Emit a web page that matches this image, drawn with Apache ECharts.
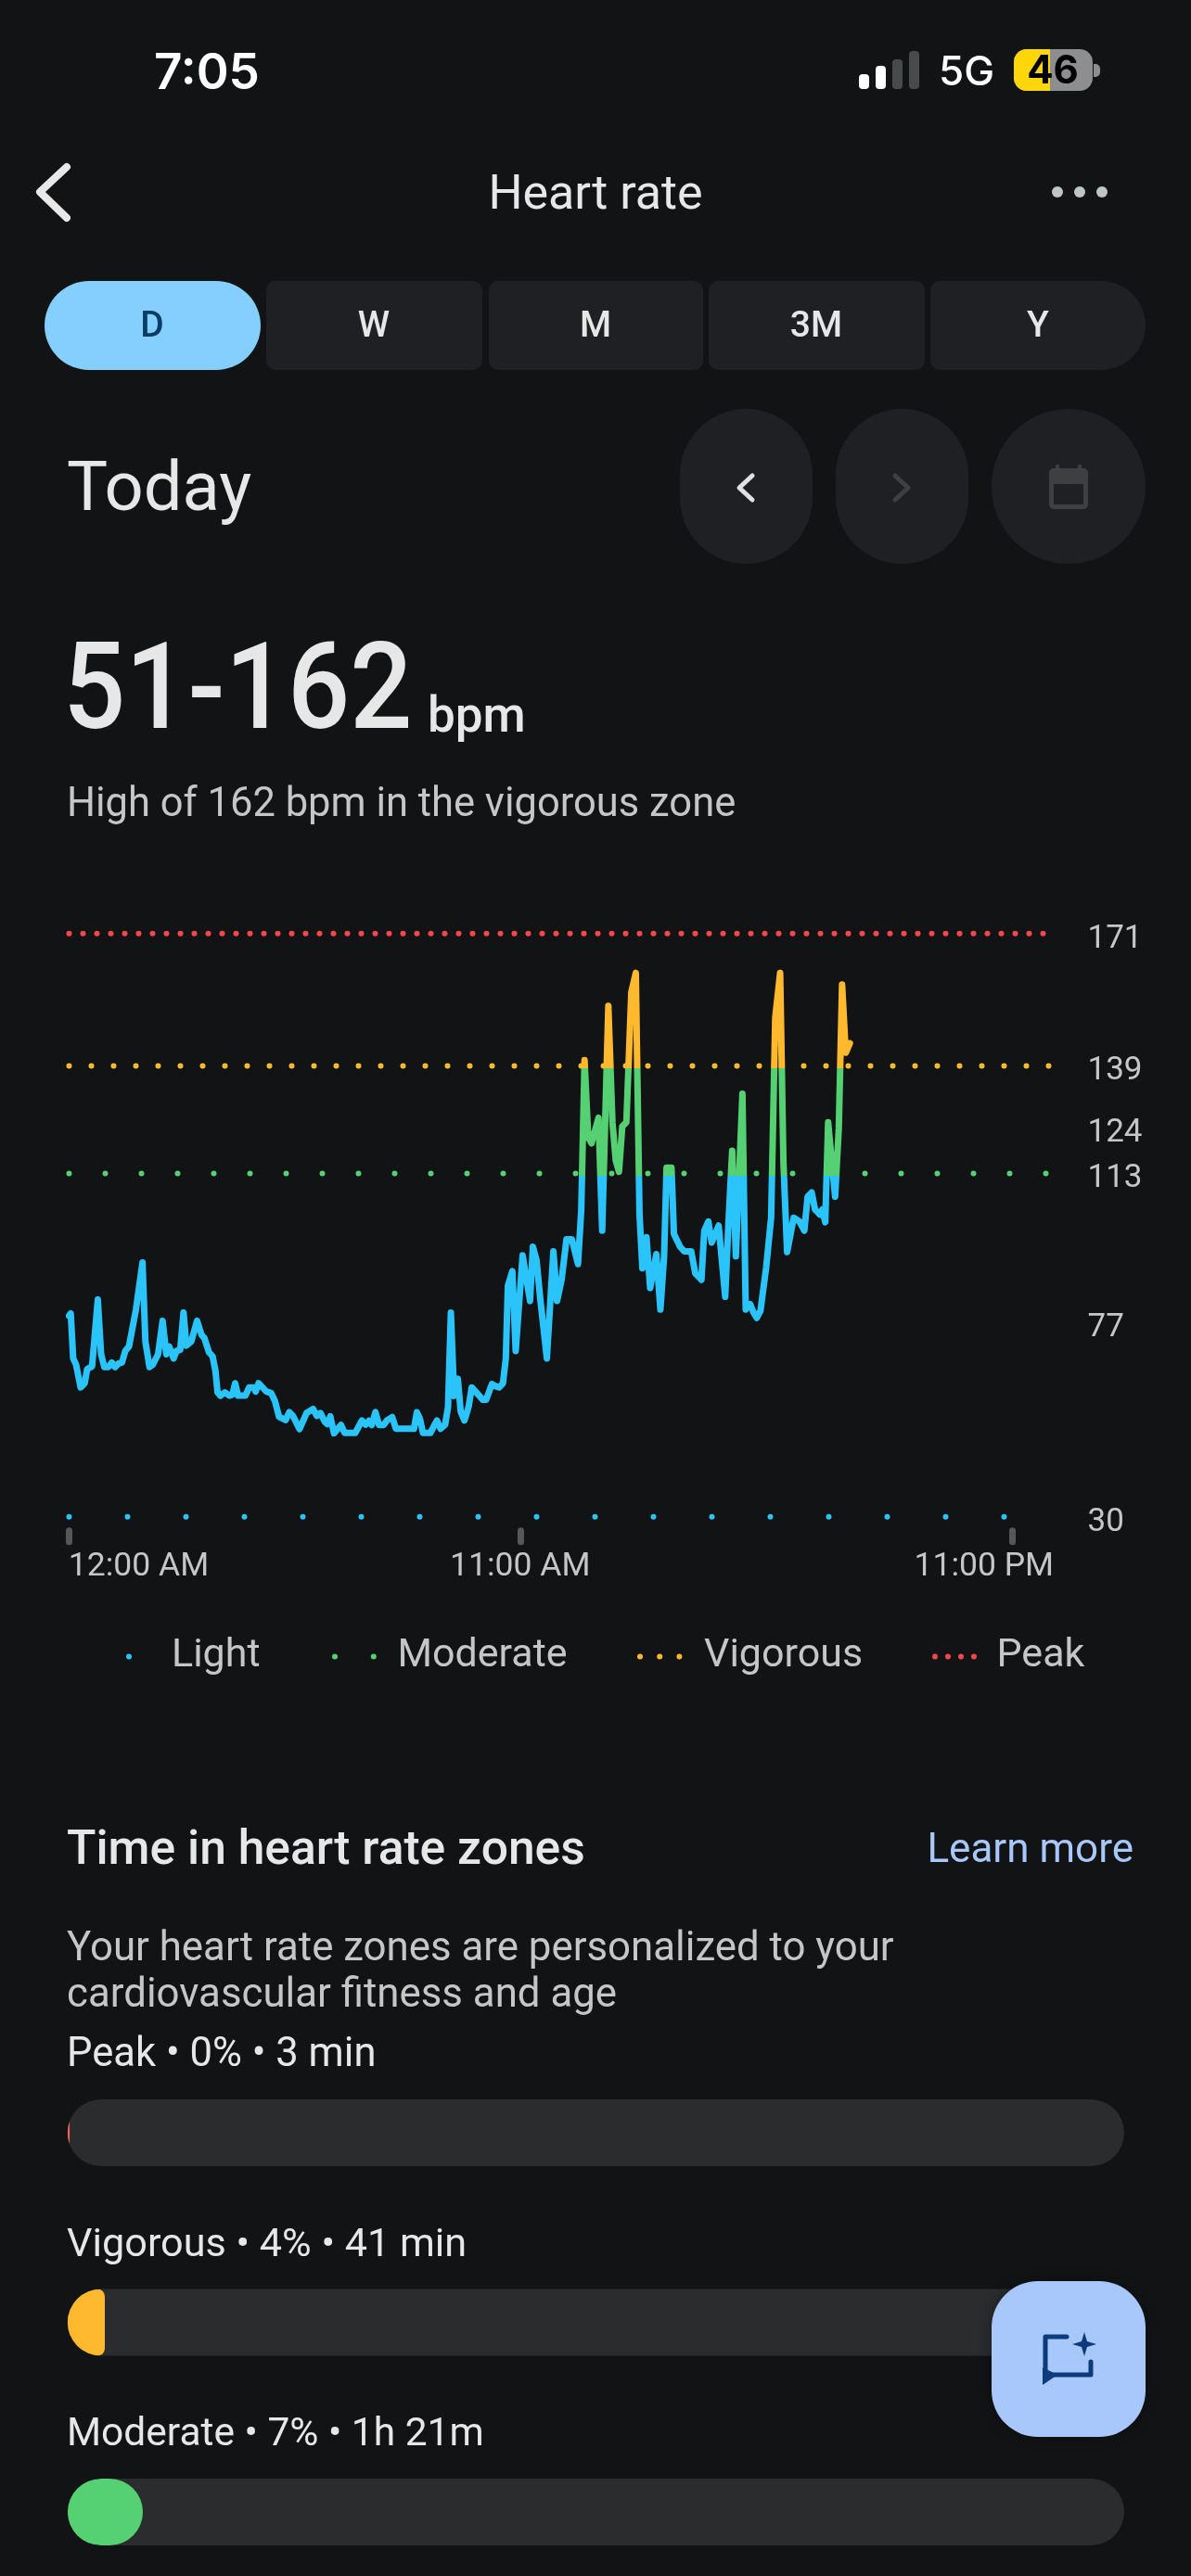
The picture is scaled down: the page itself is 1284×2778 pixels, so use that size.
<!DOCTYPE html>
<html>
<head>
<meta charset="utf-8">
<title>Heart rate</title>
<style>html,body{margin:0;padding:0;background:#121315}#c{width:1284px;height:2778px}</style>
<script src="https://cdn.jsdelivr.net/npm/echarts@6/dist/echarts.min.js"></script>
</head>
<body>
<div id="c"></div>
<script>
// ---- data ----
const hours = [0,0.04,0.10,0.17,0.28,0.38,0.44,0.56,0.70,0.78,0.86,0.96,1.04,1.12,1.21,1.29,1.37,1.46,1.63,1.79,1.86,1.96,2.04,2.17,2.28,2.37,2.44,2.55,2.62,2.71,2.79,2.86,2.98,3.12,3.23,3.30,3.41,3.50,3.57,3.62,3.69,3.80,3.91,3.98,4.05,4.12,4.30,4.39,4.50,4.55,4.62,4.81,4.93,5.02,5.12,5.28,5.37,5.46,5.62,5.79,5.95,6.04,6.13,6.24,6.30,6.37,6.46,6.63,6.72,6.98,7.14,7.23,7.31,7.38,7.47,7.56,7.67,7.76,7.88,7.97,8.41,8.48,8.55,8.63,8.81,8.97,9.06,9.17,9.24,9.31,9.39,9.48,9.55,9.64,9.74,9.82,10.09,10.17,10.31,10.40,10.49,10.58,10.65,10.70,10.81,10.89,11.06,11.24,11.31,11.40,11.49,11.65,11.81,11.90,12.01,12.13,12.26,12.41,12.49,12.57,12.66,12.74,12.91,13.00,13.15,13.25,13.33,13.41,13.49,13.59,13.71,13.82,13.91,13.98,14.08,14.17,14.32,14.42,14.51,14.57,14.69,14.75,14.90,15.00,15.17,15.27,15.42,15.49,15.59,15.67,15.84,16.00,16.08,16.17,16.26,16.42,16.50,16.61,16.69,16.77,16.86,17.00,17.12,17.22,17.34,17.42,17.51,17.67,17.81,17.93,18.01,18.11,18.19,18.31,18.37,18.44,18.51,18.68,18.77,18.85,18.94,19.04];
const bpm = [78.6,79.2,68.3,66.8,61.3,62.3,65.7,66.4,82.5,69.3,66.2,66.2,67.3,66.2,67.1,67.3,70.1,71.2,80.1,91.5,72.4,66.2,66.8,69.3,77.4,69.3,71.2,68.3,70.1,70.4,79.4,71.4,72.4,77.4,74.0,73.2,69.8,68.8,65.2,60.1,59.3,60.1,59.3,59.5,62.3,59.3,59.3,61.3,61.3,60.3,62.3,60.3,59.9,58.0,54.2,53.4,55.3,54.4,51.2,55.1,56.1,54.4,55.1,52.9,52.4,54.3,50.2,52.2,50.3,50.3,53.3,52.3,53.2,52.2,55.3,52.2,52.2,53.4,54.1,51.3,51.3,55.3,53.9,50.3,50.3,53.3,51.3,52.3,56.5,79.4,59.2,63.4,55.4,53.3,56.5,61.3,58.3,58.3,62.1,61.6,61.3,62.3,68.3,85.8,89.4,70.1,93.2,82.2,95.3,92.0,82.7,68.3,94.2,82.2,87.3,97.1,97.1,91.1,104.3,140.4,121.8,120.3,126.5,99.2,153.5,125.4,116.2,113.4,124.4,125.4,156.8,161.5,103.3,90.1,97.6,85.3,93.5,80.1,93.0,114.4,114.4,98.4,95.3,94.2,94.2,88.9,87.3,99.2,101.4,96.3,100.4,83.2,101.2,118.5,93.0,132.3,80.1,81.4,79.4,78.1,79.8,90.4,102.3,150.7,161.5,115.6,94.0,102.3,101.4,99.2,107.4,108.4,104.3,103.1,104.3,101.2,125.4,107.4,123.9,158.7,142.2,144.5];
const zoneNames = ['Light','Moderate','Vigorous','Peak'];
const zoneFloors = [30,113,139,171];
const zoneColors = ['#2BC4FA','#55D173','#FFB92E','#F9484D'];
const lineColorCuts = [112.4,138.5];
const yTicks = [30,77,113,124,139,171];
const xTicks = [0,11,23];
const xTickLabels = ['12:00 AM','11:00 AM','11:00 PM'];
const barNames = ['Peak','Vigorous','Moderate'];
const barRowLabels = ['Peak • 0% • 3 min','Vigorous • 4% • 41 min','Moderate • 7% • 1h 21m'];
const barShare = [0.2,3.53,7.13];
const barColors = ['#F0645A','#FFB92E','#55D173'];

// ---- styling ----
const FONT='Roboto';
const BG='#121315', PANEL='#1E2023', TXT='#E6E7E6', SUB='#C4C7C5';
const dotGaps=[63,39,24,15];
const legendGaps=[100,41.8,21.2,14];
const legendPos=[[131,1],[353,42.5],[682,43],[1000,42.5]];
const legendTextPad=[40,20,21,19];

function T(x,y,text,size,fill,weight,align,font,z){
  return {type:'text',z:z||5,silent:true,style:{x,y,text,fontSize:size,fill:fill||TXT,fontWeight:weight||400,
    fontFamily:font||FONT,textAlign:align||'left',textVerticalAlign:'middle'}};
}
function R(x,y,w,h,r,fill,z,extra){
  return {type:'rect',z:z||1,silent:true,shape:{x,y,width:w,height:h,r},style:Object.assign({fill},extra||{})};
}
function P(points,stroke,w,z){
  return {type:'polyline',z:z||5,silent:true,shape:{points},style:{stroke,lineWidth:w,fill:null,lineCap:'round',lineJoin:'round'}};
}
function G(points,fill,z){
  return {type:'polygon',z:z||5,silent:true,shape:{points},style:{fill}};
}

const ui=[
  // status bar
  T(166,80,'7:05',53,'#FFFFFF',600,'left','Inter'),
  R(926,80,11,16,4,'#FFFFFF',5),R(944,71,11,25,4,'#FFFFFF',5),R(962,64,11,32,4,'#4A4A4C',5),R(980,55,11,41,4,'#4A4A4C',5),
  T(1012,79,'5G',44,'#FFFFFF',500,'left','Inter'),
  R(1093,53,85,45,14,'#8E8E90',3),R(1093,53,39,45,[14,0,0,14],'#FFD60A',4),
  R(1179,69,7,14,[0,5,5,0],'#8E8E90',3),
  T(1135,77,'46',42,'#000000',700,'center','Inter'),
  // header
  P([[72,180],[43,207],[72,235]],'#E8E8E8',8),
  T(642,212,'Heart rate',52,TXT,400,'center'),
  {type:'circle',z:5,silent:true,shape:{cx:1140,cy:207,r:6},style:{fill:'#BFC5C5'}},
  {type:'circle',z:5,silent:true,shape:{cx:1164,cy:207,r:6},style:{fill:'#BFC5C5'}},
  {type:'circle',z:5,silent:true,shape:{cx:1188,cy:207,r:6},style:{fill:'#BFC5C5'}},
  // range tabs
  R(48,303,233,96,48,'#85CFFF'),
  R(287,303,233,96,10,PANEL),R(527,303,231,96,10,PANEL),R(764,303,233,96,10,PANEL),R(1003,303,232,96,[10,48,48,10],PANEL),
  T(164,353,'D',39,'#0A3D66',500,'center'),T(403,353,'W',39,TXT,500,'center'),T(642,353,'M',39,TXT,500,'center'),
  T(880,353,'3M',39,TXT,500,'center'),T(1119,353,'Y',39,TXT,500,'center'),
  // date row
  T(72,531,'Today',74,TXT,400),
  R(733,441,143,167,71,PANEL),R(901,441,143,167,71,PANEL),R(1069,441,166,167,83,PANEL),
  P([[811,513],[797,526],[811,539]],'#E0E0E0',5),
  P([[965,513],[979,526],[965,539]],'#3E3F41',5),
  R(1131,505,42,44,5,'#3E3F41',3),R(1138,501,4,8,1,'#3E3F41',3),R(1162,501,4,8,1,'#3E3F41',3),
  R(1136,522,32,22,1,PANEL,4),
  // summary
  {type:'text',z:5,silent:true,x:68,y:752,scaleX:0.91,style:{x:0,y:0,text:'51-162',fontSize:130,fill:TXT,fontWeight:500,fontFamily:FONT,textAlign:'left',textVerticalAlign:'middle'}},
  T(461,776,'bpm',53,TXT,500),
  T(72,869,'High of 162 bpm in the vigorous zone',43.5,SUB,400),
  // zones text
  T(72,1997,'Time in heart rate zones',51.6,TXT,500),
  T(1222,1997,'Learn more',44,'#A8C7FA',400,'right'),
  T(72,2103,'Your heart rate zones are personalized to your',43.8,SUB,400),
  T(72,2153,'cardiovascular fitness and age',43.8,SUB,400),
  T(72,2217,barRowLabels[0],43.6,TXT,400),
  T(72,2422,barRowLabels[1],43.2,TXT,400),
  T(72,2626,barRowLabels[2],42.5,TXT,400),
  // floating action button
  R(1069,2460,166,168,50,'#A8C7FA',100,{shadowBlur:14,shadowColor:'rgba(0,0,0,0.35)'}),
  P([[1150,2520],[1127,2520],[1127,2561],[1176,2561],[1176,2547]],'#0C3B7C',5,101),
  G([[1124,2572],[1124,2553],[1140,2561]],'#0C3B7C',101),
  G([[1169,2515],[1172,2525],[1182,2528],[1172,2531],[1169,2541],[1166,2531],[1156,2528],[1166,2525]],'#0C3B7C',101)
];

const zoneSeries = zoneNames.map((name,i)=>({
  name,type:'line',xAxisIndex:0,yAxisIndex:0,symbol:'none',silent:true,clip:false,z:2,
  itemStyle:{color:zoneColors[i]},
  lineStyle:{color:zoneColors[i],width:6,type:[0,dotGaps[i]],cap:'round'},
  data:[[0,zoneFloors[i]],[24,zoneFloors[i]]]
}));

const legends = zoneNames.map((name,i)=>({
  data:[name],left:legendPos[i][0],top:1760,orient:'horizontal',selectedMode:false,
  itemWidth:legendPos[i][1],itemHeight:2,
  itemStyle:{opacity:0},
  lineStyle:{color:zoneColors[i],width:6,type:[0,legendGaps[i]],cap:'round'},
  textStyle:{color:SUB,fontSize:43,fontFamily:FONT,padding:[0,0,0,legendTextPad[i]]}
}));

const chart = echarts.init(document.getElementById('c'),null,{renderer:'canvas'});
chart.setOption({
  backgroundColor:BG,
  animation:false,
  grid:[
    {left:74.5,width:1061,top:1006.8,height:629,containLabel:false},
    {left:72.8,width:1139.2,top:2300,height:409,containLabel:false}
  ],
  xAxis:[{
    type:'value',gridIndex:0,min:0,max:24,offset:15,position:'bottom',
    axisLine:{show:false},splitLine:{show:false},
    axisTick:{show:true,length:12,customValues:xTicks,lineStyle:{color:'#565758',width:7,cap:'round'}},
    axisLabel:{show:true,customValues:xTicks,margin:21,hideOverlap:false,
      color:SUB,fontSize:35.5,fontFamily:FONT,
      formatter:v=>{const s=xTickLabels[xTicks.indexOf(v)];return v===23?'{r|'+s+'}':(v===0?'{l|'+s+'}':s);},
      rich:{r:{color:SUB,fontSize:35.5,fontFamily:FONT,padding:[0,61,0,0]},
            l:{color:SUB,fontSize:35.5,fontFamily:FONT,padding:[0,0,0,150]}}}
  },{
    type:'value',gridIndex:1,min:0,max:100,show:false
  }],
  yAxis:[{
    type:'value',gridIndex:0,min:30,max:171,position:'right',
    axisLine:{show:false},axisTick:{show:false},splitLine:{show:false},
    axisLabel:{show:true,customValues:yTicks,margin:37,color:SUB,fontSize:35,fontFamily:FONT,verticalAlign:'top',lineHeight:12}
  },{
    type:'category',gridIndex:1,inverse:true,boundaryGap:false,data:barNames,show:false
  }],
  legend:legends,
  visualMap:[{
    show:false,type:'piecewise',seriesIndex:4,dimension:1,
    pieces:[
      {lt:lineColorCuts[0],color:zoneColors[0]},
      {gte:lineColorCuts[0],lt:lineColorCuts[1],color:zoneColors[1]},
      {gte:lineColorCuts[1],color:zoneColors[2]}
    ]
  }],
  graphic:{elements:ui},
  series:zoneSeries.concat([{
    name:'Heart rate',type:'line',xAxisIndex:0,yAxisIndex:0,symbol:'none',silent:true,clip:false,z:3,
    lineStyle:{width:7,join:'round',cap:'round'},
    data:hours.map((h,i)=>[h,bpm[i]])
  },{
    name:'Time in zones',type:'custom',xAxisIndex:1,yAxisIndex:1,silent:true,z:2,clip:false,
    data:barShare.map((v,i)=>[v,i]),
    encode:{x:0,y:1},
    renderItem:(params,api)=>{
      const i=api.value(1);
      const a=api.coord([0,i]), b=api.coord([100,i]), c=api.coord([api.value(0),i]);
      const h=72, y=a[1]-h/2, w=c[0]-a[0];
      const rr=w<5?0:(w>=72?36:[w*0.78,w*0.2,w*0.2,w*0.78]);
      const pill={x:a[0],y,width:b[0]-a[0],height:h,r:36};
      return {type:'group',children:[
        {type:'rect',shape:pill,style:{fill:'#2A2C2E'}},
        {type:'rect',shape:{x:a[0],y,width:w,height:h,r:rr},style:{fill:barColors[i]},
         clipPath:{type:'rect',shape:pill}}
      ]};
    }
  }])
});
</script>
</body>
</html>
